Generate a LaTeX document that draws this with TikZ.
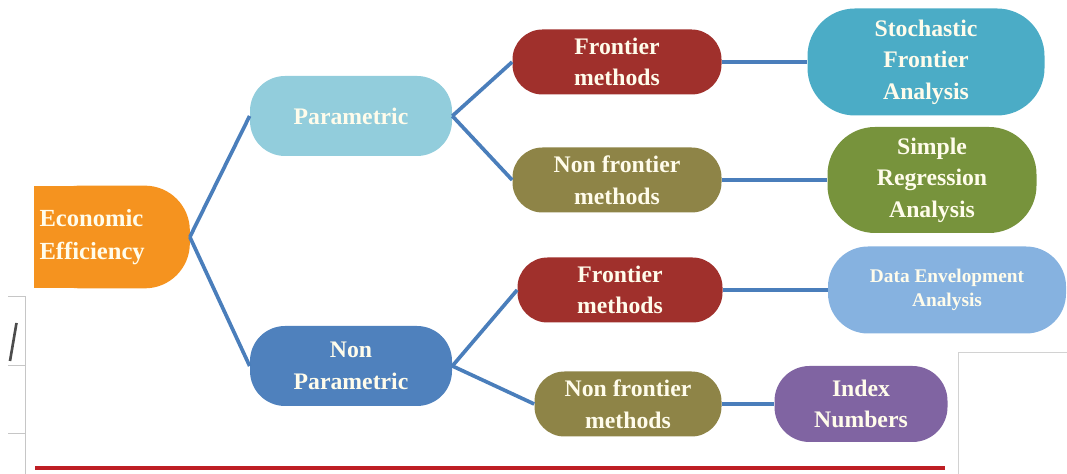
\documentclass[tikz,border=0pt]{standalone}
\usepackage{fontspec}
\setmainfont{Liberation Serif}
\usepackage{tikz}
\usetikzlibrary{backgrounds}

\definecolor{eeorange}{HTML}{F5931F}
\definecolor{parblue}{HTML}{92CDDC}
\definecolor{nparblue}{HTML}{4F81BD}
\definecolor{frred}{HTML}{A0302C}
\definecolor{nfrolive}{HTML}{8E8447}
\definecolor{sfateal}{HTML}{4BACC6}
\definecolor{sragreen}{HTML}{77933C}
\definecolor{deablue}{HTML}{86B2E0}
\definecolor{idxpurple}{HTML}{8064A2}
\definecolor{linkblue}{HTML}{4A7EBB}
\definecolor{rulered}{HTML}{BE1E24}
\definecolor{txt}{HTML}{FFFCEB}

\begin{document}
\begin{tikzpicture}[
  pill/.style={rectangle,rounded corners=#1,inner sep=1pt,align=center,text=txt,
    font=\fontsize{13.5}{18}\selectfont\bfseries},
  link/.style={draw=linkblue,line width=2.1pt}
]
\useasboundingbox (0,0) rectangle (21.34,9.48);

% root
\node at (2.24,4.74) [rectangle,minimum width=3.1cm,minimum height=2.04cm,inner sep=0.1cm,
  text width=2.9cm,align=left,text=txt,font=\fontsize{14}{18.5}\selectfont\bfseries] (ee) {Economic\\Efficiency};
\begin{scope}[on background layer]
\fill[eeorange,rounded corners=0.9cm] (ee.north west) rectangle (ee.south east);
\fill[eeorange] (ee.north west) rectangle (ee.south);
\end{scope}

% first level
\node at (7.02,7.16) [pill=0.7cm,fill=parblue,minimum width=4.04cm,minimum height=1.6cm] (par) {Parametric};
\node at (7.02,2.16) [pill=0.7cm,fill=nparblue,minimum width=4.04cm,minimum height=1.6cm] (npar) {Non\\Parametric};

% methods
\node at (12.34,8.24) [pill=0.6cm,fill=frred,minimum width=4.18cm,minimum height=1.3cm] (frp) {Frontier\\methods};
\node at (12.34,5.88) [pill=0.6cm,fill=nfrolive,minimum width=4.18cm,minimum height=1.3cm] (nfrp) {Non frontier\\methods};
\node at (12.4,3.68) [pill=0.6cm,fill=frred,minimum width=4.1cm,minimum height=1.3cm] (frn) {Frontier\\methods};
\node at (12.56,1.4) [pill=0.6cm,fill=nfrolive,minimum width=3.74cm,minimum height=1.3cm] (nfrn) {Non frontier\\methods};

% techniques
\node at (18.52,8.24) [pill=0.95cm,fill=sfateal,minimum width=4.74cm,minimum height=2.14cm] (sfa) {Stochastic\\Frontier\\Analysis};
\node at (18.64,5.88) [pill=0.95cm,fill=sragreen,minimum width=4.18cm,minimum height=2.12cm] (sra) {Simple\\Regression\\Analysis};
\node at (18.94,3.68) [pill=0.8cm,fill=deablue,minimum width=4.76cm,minimum height=1.74cm,
  font=\fontsize{11}{14}\selectfont\bfseries] (dea) {Data Envelopment\\Analysis};
\node at (17.22,1.4) [pill=0.7cm,fill=idxpurple,minimum width=3.46cm,minimum height=1.52cm] (idx) {Index\\Numbers};

% connectors
\draw [link] (ee.east) -- (par.west);
\draw [link] (ee.east) -- (npar.west);
\draw [link] (par.east) -- (frp.west);
\draw [link] (par.east) -- (nfrp.west);
\draw [link] (npar.east) -- (frn.west);
\draw [link] (npar.east) -- (nfrn.west);
\draw [link] (frp.east) -- (sfa.west);
\draw [link] (nfrp.east) -- (sra.west);
\draw [link] (frn.east) -- (dea.west);
\draw [link] (nfrn.east) -- (idx.west);

% page bits round the diagram
\draw [rulered,line width=2.2pt] (0.7,0.12) -- (18.9,0.12);
\draw [gray!35] (19.16,0) -- (19.16,2.44) -- (21.34,2.44);
\draw [gray!45] (0.16,3.56) -- (0.5,3.56) -- (0.5,0);
\draw [gray!45] (0.16,2.18) -- (0.5,2.18);
\draw [gray!45] (0.16,0.82) -- (0.5,0.82);
\draw [black!70,line width=1.5pt] (0.2,2.26) -- (0.33,3.02);
\end{tikzpicture}
\end{document}
